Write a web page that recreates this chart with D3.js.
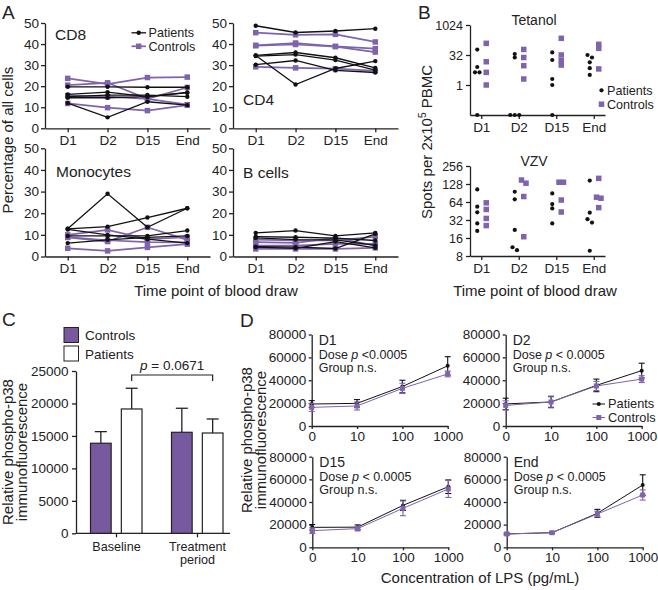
<!DOCTYPE html>
<html><head><meta charset="utf-8">
<script src="https://cdn.jsdelivr.net/npm/d3@7"></script>
<style>body{margin:0;background:#fff}svg{display:block;background:#fff}</style>
</head><body><svg id="c" width="658" height="590"></svg>
<script>
// ---------- DATA ----------
const timepoints = ["D1","D2","D15","End"];
const pctTicks = [0,10,20,30,40,50];
// Panel A (percentage of all cells), one array per subject, values at D1,D2,D15,End
const cd8Patients = [[19.7,19.7,19.5,19.5],[12,5.2,12.6,11],[16.1,17.2,15,16.9],[15,15.8,15.8,15],[14.5,14.5,15,17]];
const cd8Controls = [[23.7,21,24.1,24.3],[20.5,21.6,14,19.4],[11.8,9.8,8.4,11],[15.5,15,14,11.2]];
const cd4Patients = [[48.7,45.5,46.2,47.3],[34.6,20.8,28.4,31.9],[30.2,32.2,27.5,26.5],[34.6,36,33.5,28.7],[34.3,35,32.4,27.6]];
const cd4Controls = [[45.4,44.4,44.6,41],[39.4,40.5,38.9,37.8],[39.2,39.8,38.8,36.2],[29.2,28.7,28.3,27.3]];
const monoPatients = [[12.8,29,13.5,22.3],[12.8,13.8,18,22.3],[9.5,9.5,9.5,12],[6.2,7.7,8.8,9.5],[12.5,10,8,6.2]];
const monoControls = [[10,12.3,8,8.9],[8.8,6.9,13.5,7.7],[3.8,2.6,4.2,5.7],[9,7.5,6.6,6.5]];
const bPatients = [[10.9,12,9.5,10.9],[9.2,8.9,8.5,7.4],[8.6,7.8,7.7,5.1],[4.5,4.3,3.7,10.5],[4.3,3.8,6.9,4]];
const bControls = [[7.8,7.4,7.4,9.2],[6.6,6.3,8.6,5.1],[3.5,3.5,3.5,4],[5,5,5.8,5.8]];
// Panel B (spots per 2x10^5 PBMC), values per time point; 0 = none detected
const tetPatients = [[60,8,4.3,4.3,0],[36,24,0,0,0],[43,18,2,1,0],[32,24,13.7,7,3.2]];
const tetControls = [[123,14.7,4.3,1],[61,24,9.3,2],[220,32,16.6,10],[110,69,6.4]];
const tetTicks = [1,32,1024];
const vzvPatients = [[104,53.5,43,28,21],[95,71,21.8,11.2,10],[89,59,50,28],[146,42.5,33,29,9.8]];
const vzvControls = [[62,48,34,25.8],[149,132,79,16.8],[137,137,69,43.5],[159,77,74,51.5]];
const vzvTicks = [8,16,32,64,128,256];
// Panel C
const cGroups = ["Baseline","Treatment period"];
const barSeries = ["Controls","Patients"];
const ctrlMean = [13870,15560], ctrlErr = [1790,3700];
const patMean = [19150,15450], patErr = [3190,2160];
const cTicks = [0,5000,10000,15000,20000,25000];
// Panel D
const doses = ["0","10","100","1000"];
const dTicks = [0,20000,40000,60000,80000];
const d1PatMean=[19200,19800,34500,52600], d1PatErr=[3000,3300,5500,8000];
const d1CtrlMean=[16300,17500,32900,45500], d1CtrlErr=[3500,3500,4500,2500];
const d2PatMean=[19300,21000,35500,48400], d2PatErr=[5000,5000,5500,6500];
const d2CtrlMean=[18000,21000,35000,41000], d2CtrlErr=[4000,4500,4000,3000];
const d15PatMean=[17600,17800,37000,53500], d15PatErr=[2500,2000,4500,6000];
const d15CtrlMean=[14700,16500,34400,51500], d15CtrlErr=[2500,2000,6500,7500];
const endPatMean=[11800,12900,30000,55000], endPatErr=[800,800,3500,9000];
const endCtrlMean=[11800,12900,29400,46200], endCtrlErr=[800,800,2500,4500];

// ---------- DRAW ----------
const FONT = "Arial, 'Liberation Sans', Helvetica, sans-serif";
const PURPLE = "#7f64ad", BARP = "#76599f", INK = "#222";
const svg = d3.select("#c").attr("font-family", FONT);
svg.append("rect").attr("width",658).attr("height",590).attr("fill","#fff");

function styleAxis(g, size){
  g.attr("font-family", FONT).attr("font-size", size);
  g.selectAll("path,line").attr("stroke", INK).attr("stroke-width", 1.3);
  g.selectAll("text").attr("fill", INK);
}
function txt(x,y,s,size,anchor){
  return svg.append("text").attr("x",x).attr("y",y).attr("font-size",size)
    .attr("text-anchor",anchor||"start").attr("fill",INK).text(s);
}
function vtxt(x,yc,s,size){
  return svg.append("text").attr("transform",`translate(${x},${yc}) rotate(-90)`)
    .attr("font-size",size).attr("text-anchor","middle").attr("fill",INK).text(s);
}
function square(g,cx,cy,s,fill){
  g.append("rect").attr("x",cx-s/2).attr("y",cy-s/2).attr("width",s).attr("height",s).attr("fill",fill);
}

// Panel letters
txt(2,18.5,"A",19); txt(418,18.5,"B",19); txt(2,326,"C",19); txt(240,327,"D",19);

// ----- Panel A -----
function panelA(x0,yTop,yBot,title,tx,ty,pats,ctrls,legend){
  const g = svg.append("g");
  const x = d3.scalePoint().domain(timepoints).range([x0,x0+165]).padding(0.57);
  const y = d3.scaleLinear().domain([0,50]).range([yBot,yTop]);
  g.append("g").attr("transform",`translate(${x0},0)`)
    .call(d3.axisLeft(y).tickValues(pctTicks).tickSize(4).tickSizeOuter(0).tickPadding(2))
    .call(a=>styleAxis(a,13.5));
  g.append("g").attr("transform",`translate(0,${yBot})`)
    .call(d3.axisBottom(x).tickSize(4).tickSizeOuter(0).tickPadding(3))
    .call(a=>styleAxis(a,13.5));
  const line = d3.line().x((d,i)=>x(timepoints[i])).y(d=>y(d));
  ctrls.forEach(s=>{
    g.append("path").attr("d",line(s)).attr("fill","none").attr("stroke",PURPLE).attr("stroke-width",1.7);
    s.forEach((v,i)=>square(g,x(timepoints[i]),y(v),5.5,PURPLE));
  });
  pats.forEach(s=>{
    g.append("path").attr("d",line(s)).attr("fill","none").attr("stroke","#111").attr("stroke-width",1.3);
    s.forEach((v,i)=>g.append("circle").attr("cx",x(timepoints[i])).attr("cy",y(v)).attr("r",2.2).attr("fill","#111"));
  });
  txt(tx,ty,title,15.5);
  if(legend){
    g.append("line").attr("x1",131.5).attr("x2",146).attr("y1",32.8).attr("y2",32.8).attr("stroke","#111").attr("stroke-width",1.3);
    g.append("circle").attr("cx",138.7).attr("cy",32.8).attr("r",2.2).attr("fill","#111");
    g.append("line").attr("x1",131.5).attr("x2",146).attr("y1",46.3).attr("y2",46.3).attr("stroke",PURPLE).attr("stroke-width",1.7);
    square(g,138.7,46.3,5.5,PURPLE);
    txt(148.5,37.2,"Patients",12.6); txt(148.5,51,"Controls",12.6);
  }
}
panelA(45,23,128.3,"CD8",55,40,cd8Patients,cd8Controls,true);
panelA(233,23,128.3,"CD4",243,105,cd4Patients,cd4Controls,false);
panelA(45,148.3,256.5,"Monocytes",56,177,monoPatients,monoControls,false);
panelA(233,148.3,256.5,"B cells",243,178,bPatients,bControls,false);
vtxt(13,140,"Percentage of all cells",15);
txt(216,296,"Time point of blood draw",15,"middle");

// ----- Panel B -----
function panelB(yTop,yBot,dom,ticks,title,pats,ctrls,legend){
  const g = svg.append("g");
  const x = d3.scalePoint().domain(timepoints).range([470,605]).padding(0.3);
  const y = d3.scaleLog().base(2).domain(dom).range([yBot,yTop]);
  g.append("g").attr("transform",`translate(470,0)`)
    .call(d3.axisLeft(y).tickValues(ticks).tickFormat(d3.format("d")).tickSize(4).tickSizeOuter(0).tickPadding(3))
    .call(a=>styleAxis(a,12.5));
  g.append("g").attr("transform",`translate(0,${yBot})`)
    .call(d3.axisBottom(x).tickSize(4).tickSizeOuter(0).tickPadding(3))
    .call(a=>styleAxis(a,13.5));
  function place(vals, tp, base){
    const pts = vals.map(v=>({v, py: y(Math.max(v, dom[0]))})).sort((a,b)=>a.py-b.py);
    const clusters=[]; pts.forEach(p=>{
      const c=clusters[clusters.length-1];
      if(c && Math.abs(p.py-c[c.length-1].py)<3.5) c.push(p); else clusters.push([p]);
    });
    clusters.forEach(c=>c.forEach((p,k)=>{p.px = x(tp)+base+(k-(c.length-1)/2)*4.5;}));
    return pts;
  }
  timepoints.forEach((tp,i)=>{
    place(pats[i],tp,-4).forEach(p=>g.append("circle").attr("cx",p.px).attr("cy",p.py).attr("r",2.1).attr("fill","#111"));
    place(ctrls[i],tp,5).forEach(p=>square(g,p.px,p.py,5.5,PURPLE));
  });
  txt(534,yTop,title,14,"middle");
  if(legend){
    g.append("circle").attr("cx",601.5).attr("cy",90.3).attr("r",2.1).attr("fill","#111");
    square(g,601.5,104.2,5.5,PURPLE);
    txt(607,95,"Patients",12.6); txt(607,109,"Controls",12.6);
  }
}
panelB(25,115,[1/32,1024],tetTicks,"Tetanol",tetPatients,tetControls,true);
panelB(166,256,[8,256],vzvTicks,"VZV",vzvPatients,vzvControls,false);
{
  const t = svg.append("text").attr("transform","translate(432,142) rotate(-90)")
    .attr("font-size",15).attr("text-anchor","middle").attr("fill",INK);
  t.append("tspan").text("Spots per 2x10");
  t.append("tspan").attr("font-size",10).attr("dy",-6).text("5");
  t.append("tspan").attr("dy",6).text(" PBMC");
}
txt(535,296,"Time point of blood draw",15,"middle");

// ----- Panel C -----
{
  const g = svg.append("g");
  const x0 = d3.scaleBand().domain(cGroups).range([76,238]);
  const y = d3.scaleLinear().domain([0,25000]).range([533.3,371]);
  g.append("g").attr("transform","translate(76,0)")
    .call(d3.axisLeft(y).tickValues(cTicks).tickFormat(d3.format("d")).tickSize(4).tickSizeOuter(0).tickPadding(3.5))
    .call(a=>styleAxis(a,13.5));
  const xa = g.append("g").attr("transform","translate(0,533.3)");
  xa.append("line").attr("x1",76).attr("x2",230).attr("stroke",INK).attr("stroke-width",1.3);
  cGroups.forEach((c,i)=>{
    const cx = x0(c)+x0.bandwidth()/2;
    xa.append("line").attr("x1",cx).attr("x2",cx).attr("y1",0).attr("y2",4).attr("stroke",INK).attr("stroke-width",1.3);
    const words = c.split(" ");
    words.forEach((w,k)=>txt(cx,550.5+k*13.6,w,12.6,"middle"));
  });
  const means=[ctrlMean,patMean], errs=[ctrlErr,patErr], fills=[BARP,"#fff"];
  cGroups.forEach((c,i)=>{
    const x1 = d3.scaleBand().domain(barSeries).range([x0(c)+14.5,x0(c)+66]).paddingInner(0.33);
    barSeries.forEach((s,j)=>{
      const bx=x1(s), bw=x1.bandwidth(), m=means[j][i], e=errs[j][i], cx=bx+bw/2;
      g.append("line").attr("x1",cx).attr("x2",cx).attr("y1",y(m)).attr("y2",y(m+e)).attr("stroke",INK).attr("stroke-width",1.3);
      g.append("line").attr("x1",cx-6).attr("x2",cx+6).attr("y1",y(m+e)).attr("y2",y(m+e)).attr("stroke",INK).attr("stroke-width",1.3);
      g.append("rect").attr("x",bx).attr("y",y(m)).attr("width",bw).attr("height",y(0)-y(m))
        .attr("fill",fills[j]).attr("stroke",INK).attr("stroke-width",1.2);
    });
  });
  // bracket
  const x1b = d3.scaleBand().domain(barSeries).range([x0(cGroups[0])+14.5,x0(cGroups[0])+66]).paddingInner(0.33);
  const x1t = d3.scaleBand().domain(barSeries).range([x0(cGroups[1])+14.5,x0(cGroups[1])+66]).paddingInner(0.33);
  const bl = x1b("Patients")+x1b.bandwidth()/2, br = x1t("Patients")+x1t.bandwidth()/2;
  g.append("path").attr("d",`M${bl},381V375H${br}V381`).attr("fill","none").attr("stroke",INK).attr("stroke-width",1.2);
  const pt = txt((bl+br)/2,369.5,"",13.5,"middle");
  pt.append("tspan").attr("font-style","italic").text("p");
  pt.append("tspan").text(" = 0.0671");
  // legend
  g.append("rect").attr("x",64).attr("y",327.5).attr("width",14.5).attr("height",15).attr("fill",BARP).attr("stroke",INK).attr("stroke-width",1);
  g.append("rect").attr("x",64).attr("y",346).attr("width",14.5).attr("height",15).attr("fill","#fff").attr("stroke",INK).attr("stroke-width",1);
  txt(85,340,"Controls",13.5); txt(85,358.5,"Patients",13.5);
  vtxt(13,452,"Relative phospho-p38",15);
  vtxt(27,452,"immunofluorescence",15);
}

// ----- Panel D -----
function panelD(x0,yTop,yBot,label,doseP,pm,pe,cm,ce,legend){
  const g = svg.append("g");
  const x = d3.scalePoint().domain(doses).range([x0,x0+136]).padding(0);
  const y = d3.scaleLinear().domain([0,80000]).range([yBot,yTop]);
  g.append("g").attr("transform",`translate(${x0},0)`)
    .call(d3.axisLeft(y).tickValues(dTicks).tickFormat(d3.format("d")).tickSize(3).tickSizeOuter(0).tickPadding(2.5))
    .call(a=>styleAxis(a,13.5));
  g.append("g").attr("transform",`translate(0,${yBot})`)
    .call(d3.axisBottom(x).tickSize(3).tickSizeOuter(0).tickPadding(2))
    .call(a=>styleAxis(a,13.5));
  const line = d3.line().x((d,i)=>x(doses[i])).y(d=>y(d));
  function series(m,e,color,isCtrl){
    g.append("path").attr("d",line(m)).attr("fill","none").attr("stroke",color).attr("stroke-width",1);
    m.forEach((v,i)=>{
      const cx=x(doses[i]);
      g.append("line").attr("x1",cx).attr("x2",cx).attr("y1",y(v-e[i])).attr("y2",y(v+e[i])).attr("stroke",color).attr("stroke-width",1.1);
      [v-e[i],v+e[i]].forEach(t=>g.append("line").attr("x1",cx-3).attr("x2",cx+3).attr("y1",y(t)).attr("y2",y(t)).attr("stroke",color).attr("stroke-width",1.1));
      if(isCtrl) square(g,cx,y(v),5,color); else g.append("circle").attr("cx",cx).attr("cy",y(v)).attr("r",2).attr("fill",color);
    });
  }
  series(pm,pe,"#111",false);
  series(cm,ce,PURPLE,true);
  txt(x0+7,yTop+10.5,label,14);
  const d = txt(x0+7,yTop+24.5,"",12.5);
  d.append("tspan").text("Dose ");
  d.append("tspan").attr("font-style","italic").text("p");
  d.append("tspan").text(doseP);
  txt(x0+7,yTop+37.5,"Group n.s.",12.5);
  if(legend){
    g.append("line").attr("x1",592.5).attr("x2",605).attr("y1",404).attr("y2",404).attr("stroke","#111").attr("stroke-width",1);
    g.append("circle").attr("cx",598.8).attr("cy",404).attr("r",2).attr("fill","#111");
    g.append("line").attr("x1",592.5).attr("x2",605).attr("y1",417.5).attr("y2",417.5).attr("stroke",PURPLE).attr("stroke-width",1);
    square(g,598.8,417.5,5,PURPLE);
    txt(608,408.3,"Patients",12.8); txt(608,422,"Controls",12.8);
  }
}
panelD(311.7,334.5,426,"D1"," <0.0005",d1PatMean,d1PatErr,d1CtrlMean,d1CtrlErr,false);
panelD(505.7,334.5,426,"D2"," < 0.0005",d2PatMean,d2PatErr,d2CtrlMean,d2CtrlErr,true);
panelD(312.3,456.7,547.3,"D15"," < 0.0005",d15PatMean,d15PatErr,d15CtrlMean,d15CtrlErr,false);
panelD(506.7,456.7,547.3,"End"," < 0.0005",endPatMean,endPatErr,endCtrlMean,endCtrlErr,false);
vtxt(251.5,440,"Relative phospho-p38",15);
vtxt(265.5,440,"immunofluorescence",15);
txt(480,583,"Concentration of LPS (pg/mL)",15,"middle");
</script></body></html>
